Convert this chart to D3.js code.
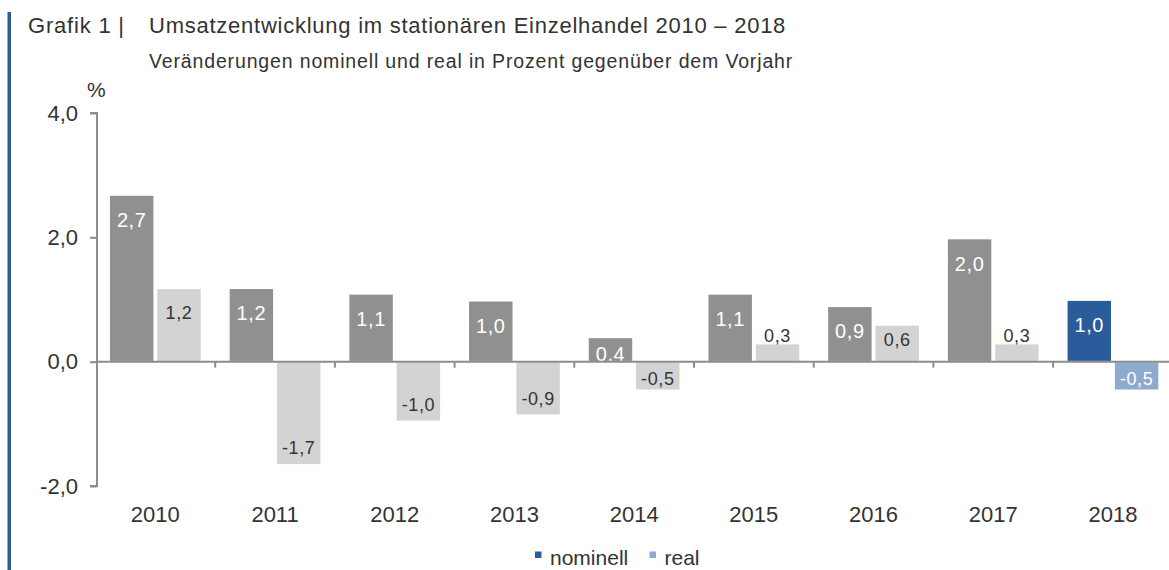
<!DOCTYPE html>
<html lang="de">
  <head>
    <meta charset="utf-8" />
    <script src="https://d3js.org/d3.v7.min.js"></script>
    <style>
      body {
        margin: 0;
        background: #fff;
      }
      svg {
        display: block;
        font-family: "Liberation Sans", Arial, sans-serif;
      }
      .axis path,
      .axis line {
        stroke: #8c8c8c;
        stroke-width: 2px;
        fill: none;
      }
      .axis text {
        fill: #333;
        font-size: 22px;
      }
    </style>
  </head>
  <body>
    <svg width="1169" height="570"></svg>
    <script>
      // data
      var years = ["2010", "2011", "2012", "2013", "2014", "2015", "2016", "2017", "2018"];
      var nominell = [2.68, 1.18, 1.09, 0.98, 0.39, 1.09, 0.89, 1.98, 0.99];
      var real = [1.18, -1.66, -0.96, -0.86, -0.46, 0.29, 0.59, 0.29, -0.46];
      var yTicks = [-2, 0, 2, 4];
      var seriesNames = ["nominell", "real"];

      var grey = { nominell: "#909090", real: "#d3d3d3" };
      var blue = { nominell: "#2a5b9b", real: "#8eaacf" };

      var de = d3.formatLocale({
        decimal: ",",
        thousands: ".",
        grouping: [3],
        currency: ["", " €"],
        minus: "-",
      });
      var fmt = de.format(".1f");

      var svg = d3.select("svg");

      // blue bar on the left
      svg.append("rect")
        .attr("x", 7.5)
        .attr("y", 12)
        .attr("width", 3.5)
        .attr("height", 570)
        .attr("fill", "#2a5b9b");

      svg.append("text")
        .attr("x", 28)
        .attr("y", 33)
        .attr("fill", "#333")
        .style("font-size", "22px")
        .style("letter-spacing", "0.8px")
        .text("Grafik 1 |");

      svg.append("text")
        .attr("x", 149)
        .attr("y", 33)
        .attr("fill", "#333")
        .style("font-size", "22px")
        .style("letter-spacing", "0.75px")
        .text("Umsatzentwicklung im stationären Einzelhandel 2010 – 2018");

      svg.append("text")
        .attr("x", 149)
        .attr("y", 68)
        .attr("fill", "#333")
        .style("font-size", "19.5px")
        .style("letter-spacing", "0.85px")
        .text("Veränderungen nominell und real in Prozent gegenüber dem Vorjahr");

      svg.append("text")
        .attr("x", 87)
        .attr("y", 97)
        .attr("fill", "#333")
        .style("font-size", "21px")
        .text("%");

      var x0 = 95.5;
      var step = 119.7;
      var x = d3.scaleBand()
        .domain(years)
        .range([x0, x0 + step * years.length]);

      var xSub = d3.scaleBand()
        .domain(seriesNames)
        .range([0, x.bandwidth()])
        .paddingInner(0.05)
        .paddingOuter(0.29);

      var y = d3.scaleLinear().domain([-2, 4]).range([486, 113]);

      // y axis
      var yAxis = svg.append("g")
        .attr("class", "axis")
        .attr("transform", "translate(97,0)")
        .call(d3.axisLeft(y).tickValues(yTicks).tickSize(7).tickPadding(12).tickFormat(fmt));
      yAxis.select(".domain").attr("d", "M-7," + y(4) + "H0V" + y(-2) + "H-7");

      var rows = years.map(function (yr, i) {
        return { year: yr, i: i, nominell: nominell[i], real: real[i] };
      });

      var groups = svg.selectAll("g.year")
        .data(rows)
        .enter()
        .append("g")
        .attr("class", "year")
        .attr("transform", function (d) { return "translate(" + x(d.year) + ",0)"; });

      var bars = groups.selectAll("g.bar")
        .data(function (d) {
          var last = d.i === years.length - 1;
          return seriesNames.map(function (s) {
            return { series: s, value: d[s], last: last };
          });
        })
        .enter()
        .append("g")
        .attr("class", "bar");

      bars.append("rect")
        .attr("x", function (d) { return xSub(d.series); })
        .attr("width", xSub.bandwidth())
        .attr("y", function (d) { return y(Math.max(0, d.value)); })
        .attr("height", function (d) { return Math.abs(y(d.value) - y(0)); })
        .attr("fill", function (d) { return (d.last ? blue : grey)[d.series]; })
        .attr("stroke", "#fff")
        .attr("stroke-width", 1.5);

      // value labels
      bars.append("text")
        .attr("x", function (d) { return xSub(d.series) + xSub.bandwidth() / 2; })
        .attr("y", function (d) {
          var top = y(Math.max(0, d.value));
          var bottom = y(Math.min(0, d.value));
          var h = bottom - top;
          if (d.series === "nominell") {
            return h >= 50 ? top + 32 : (top + bottom) / 2 + 11;
          }
          if (d.value >= 0) {
            if (h >= 50) return top + 31;
            if (h >= 25) return top + 21.5;
            return top - 2;
          }
          return bottom - (h >= 50 ? 10.5 : 5.5);
        })
        .attr("text-anchor", "middle")
        .attr("fill", function (d) {
          return d.series === "nominell" || d.last ? "#fff" : "#333";
        })
        .style("font-size", function (d) { return d.series === "nominell" ? "20px" : "18px"; })
        .style("letter-spacing", "0.6px")
        .text(function (d) { return fmt(d.value); });

      // x axis at zero
      var xAxis = svg.append("g")
        .attr("class", "axis")
        .attr("transform", "translate(0," + y(0) + ")");
      xAxis.append("line")
        .attr("x1", 97)
        .attr("x2", 1169)
        .attr("y1", 0)
        .attr("y2", 0);
      xAxis.selectAll("line.tick")
        .data(years.slice(1))
        .enter()
        .append("line")
        .attr("class", "tick")
        .attr("x1", function (d) { return x(d); })
        .attr("x2", function (d) { return x(d); })
        .attr("y1", 0)
        .attr("y2", 6);

      svg.append("g")
        .selectAll("text")
        .data(years)
        .enter()
        .append("text")
        .attr("x", function (d) { return x(d) + x.bandwidth() / 2; })
        .attr("y", 522)
        .attr("text-anchor", "middle")
        .attr("fill", "#333")
        .style("font-size", "22px")
        .text(function (d) { return d; });

      // legend
      var legendX = [535, 649.5];
      var legend = svg.append("g")
        .selectAll("g")
        .data(seriesNames)
        .enter()
        .append("g")
        .attr("transform", function (d, i) { return "translate(" + legendX[i] + ",0)"; });
      legend.append("rect")
        .attr("x", 0)
        .attr("y", 551.5)
        .attr("width", 6.5)
        .attr("height", 6.5)
        .attr("fill", function (d) { return blue[d]; });
      legend.append("text")
        .attr("x", 15)
        .attr("y", 565)
        .attr("fill", "#333")
        .style("font-size", "21px")
        .text(function (d) { return d; });
    </script>
  </body>
</html>
